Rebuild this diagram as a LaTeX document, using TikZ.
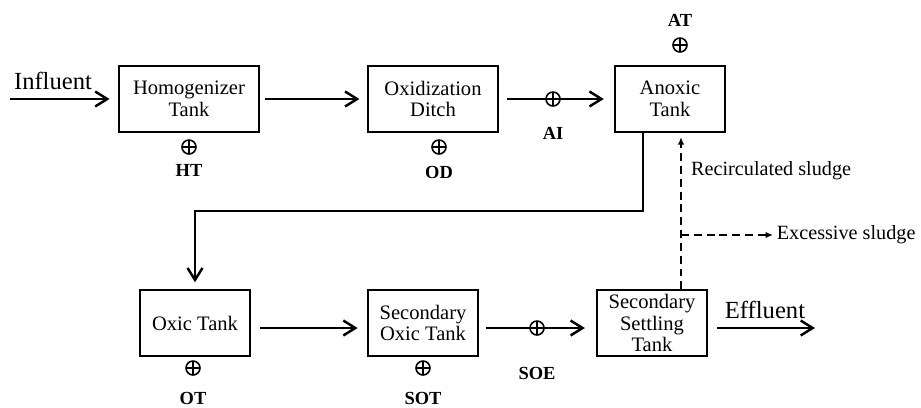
\documentclass[tikz,border=0pt]{standalone}
\usepackage{fontspec}
\setmainfont{Liberation Serif}
\usetikzlibrary{arrows.meta,positioning}

\begin{document}
\begin{tikzpicture}
      [
        x = 0.02cm, y = -0.02cm,
        tank/.style = {draw, line width=0.8pt, minimum height=1.32cm, align=center,
            inner sep=0pt, font=\fontsize{11.7}{12.3}\selectfont},
        flow/.style = {line width=1.4pt, -{Straight Barb[length=2.4mm,width=3mm]}},
        sludge/.style = {line width=1pt, dash pattern=on 4.5pt off 2.8pt, -{Latex[length=1.5mm,width=1.3mm]}},
        probe/.style = {circle, draw, line width=0.9pt, minimum size=0.28cm, inner sep=0pt,
            path picture={\draw[line width=0.9pt] (path picture bounding box.north) -- (path picture bounding box.south)
              (path picture bounding box.west) -- (path picture bounding box.east);}},
        tag/.style = {font=\fontsize{10.5}{12}\selectfont\bfseries},
        stream/.style = {font=\fontsize{14}{16}\selectfont},
        note/.style = {font=\fontsize{11.5}{13}\selectfont},
      ]

      \useasboundingbox (0,0) rectangle (921,407);

      % upper row
      \node[tank, minimum width=2.8cm] (homog) at (189,99) {Homogenizer\\Tank};
      \node[tank, minimum width=2.6cm] (oxid) at (433,99) {Oxidization\\Ditch};
      \node[tank, minimum width=2.2cm] (anoxic) at (670,99) {Anoxic\\Tank};

      % lower row
      \node[tank, minimum width=2.2cm] (oxic) at (195,323) {Oxic Tank};
      \node[tank, minimum width=2.2cm] (secoxic) at (423,323) {Secondary\\Oxic Tank};
      \node[tank, minimum width=2.2cm] (settle) at (652,323) {Secondary\\Settling\\Tank};

      % sampling points
      \node[probe] (ht) at (189,147) {};
      \node[tag] (htlab) at (189,170) {HT};
      \node[probe] (od) at (439,147) {};
      \node[tag] (odlab) at (439,172) {OD};
      \node[probe] (ai) at (553,99) {};
      \node[tag] (ailab) at (553,133) {AI};
      \node[probe] (at) at (680,45) {};
      \node[tag] (atlab) at (680,20) {AT};
      \node[probe] (ot) at (193,368) {};
      \node[tag] (otlab) at (193,398) {OT};
      \node[probe] (sot) at (423,368) {};
      \node[tag] (sotlab) at (423,398) {SOT};
      \node[probe] (soe) at (537,328) {};
      \node[tag] (soelab) at (537,373) {SOE};

      % in / out
      \coordinate (in) at (10,99);
      \coordinate (out) at (815,328);
      \node[stream] (influent) at (53,81) {Influent};
      \node[stream] (effluent) at (765,310) {Effluent};

      \draw[flow, shorten >=5pt] (in) -- (homog);
      \draw[flow, shorten <=3pt, shorten >=4.5pt] (homog) -- (oxid);
      \draw[flow, shorten <=5pt, shorten >=6pt] (oxid) -- (anoxic);
      \coordinate (turn) at (643,211);
      \draw[flow, shorten >=4pt] (anoxic.south -| turn) -- (turn) -| (oxic);
      \draw[flow, shorten <=5.5pt, shorten >=5.5pt] (oxic.east |- soe) -- (secoxic.west |- soe);
      \draw[flow, shorten <=4pt, shorten >=6.5pt] (secoxic.east |- soe) -- (settle.west |- soe);
      \draw[flow, shorten <=5.5pt] (settle.east |- out) -- (out);

      % sludge lines
      \coordinate (split) at (681,235);
      \coordinate (waste) at (773,235);
      \draw[sludge, shorten >=2.5pt] (settle.north -| split) -- (anoxic.south -| split);
      \draw[sludge] (split) -- (waste);
      \node[note, anchor=west] (recirc) at (685,171) {Recirculated sludge};
      \node[note, anchor=west, inner sep=2pt] (excess) at (waste) {Excessive sludge};
    \end{tikzpicture}
\end{document}
